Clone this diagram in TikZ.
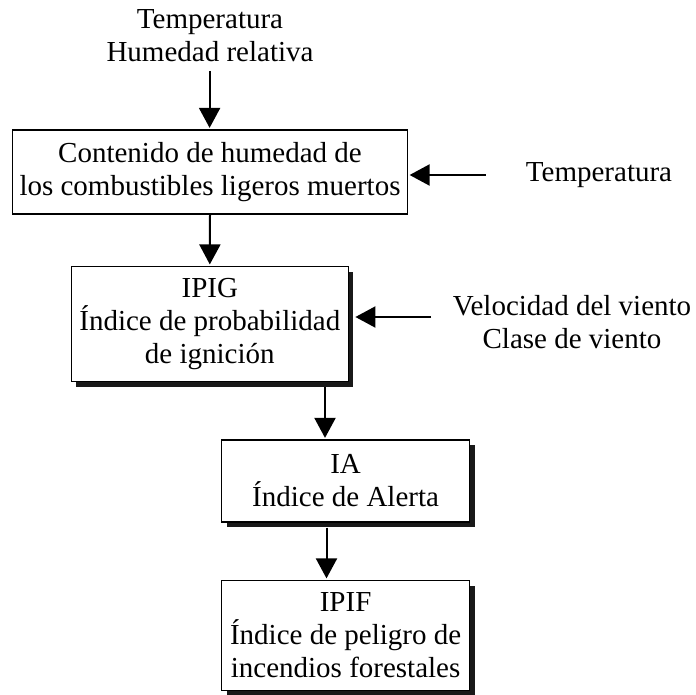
\documentclass[tikz,border=0pt]{standalone}
\usepackage{fontspec}
\setmainfont{Liberation Serif}
\usetikzlibrary{arrows.meta,shadows}
\begin{document}
\begin{tikzpicture}[x=1pt,y=-1pt,
  txt/.style={font=\fontsize{29}{33}\selectfont, align=center, inner sep=0pt},
  box/.style={txt, draw=black, line width=1.2pt, fill=white, minimum width=#1, inner sep=0pt},
  shad/.style={drop shadow={shadow xshift=5pt, shadow yshift=-5pt, fill=black!90, opacity=1}},
  arr/.style={line width=2pt, -{Triangle[length=20pt,width=21pt]}, shorten >=1.5pt}]
\useasboundingbox (0,0) rectangle (695,695);
% labels
\node[txt] (top) at (210,36) {Temperatura\\Humedad relativa};
\node[txt] (temp) at (599,175) {Temperatura};
\node[txt] (wind) at (572,322) {Velocidad del viento\\Clase de viento};
% boxes
\node[box=395pt, minimum height=84pt] (b1) at (210,172) {Contenido de humedad de\\los combustibles ligeros muertos};
\node[box=277pt, minimum height=115pt, shad] (b2) at (209.8,324) {IPIG\\Índice de probabilidad\\de ignición};
\node[box=248pt, minimum height=82pt, shad] (b3) at (345.6,481) {IA\\Índice de Alerta};
\node[box=248pt, minimum height=110pt, shad] (b4) at (345.6,635.5) {IPIF\\Índice de peligro de\\incendios forestales};
% connectors
\coordinate (t0) at (209.6,71);
\coordinate (r1) at (485.5,175);
\coordinate (r2) at (431,317);
\coordinate (c23) at (325,0);
\coordinate (c34) at (326.5,0);
\draw[arr] (t0) -- (t0 |- b1.north);
\draw[arr] (b1.south) -- (b2.north);
\draw[arr] (r1) -- (r1 -| b1.east);
\draw[arr] (r2) -- ([xshift=5pt]r2 -| b2.east);
\draw[arr] ([yshift=-5pt]b2.south -| c23) -- (b3.north -| c23);
\draw[arr] ([yshift=-5pt]b3.south -| c34) -- (b4.north -| c34);
\end{tikzpicture}
\end{document}
